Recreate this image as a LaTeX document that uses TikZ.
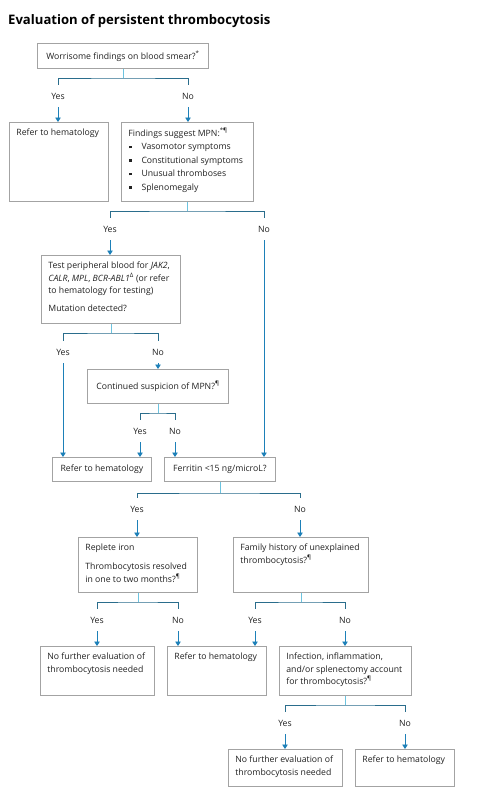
\documentclass[tikz,border=0pt]{standalone}
\usepackage{fontspec}
\setmainfont{Open Sans}
\usetikzlibrary{arrows.meta}
\definecolor{txt}{HTML}{222222}
\definecolor{boxc}{HTML}{A3A3A3}
\definecolor{barc}{HTML}{2A6D8C}
\definecolor{srcc}{HTML}{6CC3DF}
\definecolor{arrc}{HTML}{1D80B8}
\newcommand{\bt}[3]{\parbox[c][#2][t]{#1}{\raggedright\fontsize{8.7}{12.5}\selectfont\strut #3}}
\newcommand{\bq}{\rule[1.6pt]{2.6pt}{2.6pt}\hspace{9.5pt}}
\begin{document}
\begin{tikzpicture}[x=1pt,y=-1pt,
  every node/.style={text=txt},
  box/.style={draw=boxc,line width=0.8pt,anchor=north west,inner xsep=7pt,inner ysep=4.5pt,font=\fontsize{8.7}{12.5}\selectfont},
  cbox/.style={draw=boxc,line width=0.8pt,anchor=north west,inner sep=0pt,font=\fontsize{8.7}{12.5}\selectfont},
  lbl/.style={inner sep=0pt,minimum height=22pt,font=\fontsize{8.7}{10}\selectfont},
  src/.style={draw=srcc,line width=0.8pt},
  bar/.style={draw=barc,line width=0.9pt},
  arr/.style={draw=arrc,line width=0.9pt,-{Triangle[width=5.5pt,length=4.5pt]}}]
\useasboundingbox (0,0) rectangle (480,800);
\fill[white] (0,0) rectangle (480,800);
\node[anchor=west,font=\bfseries\fontsize{13.1}{15}\selectfont,text=black,inner sep=0pt] (title) at (8,21) {Evaluation of persistent thrombocytosis};
% boxes
\node[cbox,minimum width=171pt,minimum height=25pt] (n1) at (37,43) {Worrisome findings on blood smear?\textsuperscript{*}};
\node[box] (refer1) at (9,122) {\bt{85pt}{70pt}{Refer to hematology}};
\node[box] (mpn) at (121,122) {\parbox[c][70pt][t]{118pt}{\raggedright\fontsize{8.7}{13.5}\selectfont\strut Findings suggest MPN:\textsuperscript{*¶}\\
\hspace*{1pt}\bq Vasomotor symptoms\\
\hspace*{1pt}\bq Constitutional symptoms\\
\hspace*{1pt}\bq Unusual thromboses\\
\hspace*{1pt}\bq Splenomegaly}};
\node[box] (test) at (41,255) {\bt{125pt}{59pt}{Test peripheral blood for \textit{JAK2}, \textit{CALR}, \textit{MPL}, \textit{BCR-ABL1}\textsuperscript{Δ} (or refer to hematology for testing)\\[5.5pt]\strut Mutation detected?}};
\node[cbox,minimum width=141pt,minimum height=34pt] (cont) at (87,369) {Continued suspicion of MPN?\textsuperscript{¶}};
\node[cbox,minimum width=99pt,minimum height=24pt] (refer2) at (52,457) {Refer to hematology};
\node[cbox,minimum width=111pt,minimum height=24pt] (ferr) at (164,457) {Ferritin <15 ng/microL?};
\node[box] (replete) at (78,537) {\bt{105pt}{46pt}{Replete iron\\[6.5pt]\strut Thrombocytosis resolved in one to two months?\textsuperscript{¶}}};
\node[box] (family) at (233,537) {\bt{121pt}{46pt}{Family history of unexplained thrombocytosis?\textsuperscript{¶}}};
\node[box] (nofur1) at (40,646) {\bt{100pt}{40pt}{No further evaluation of thrombocytosis needed}};
\node[box] (refer3) at (167,646) {\bt{85pt}{40pt}{Refer to hematology}};
\node[box] (infect) at (279,646) {\bt{118pt}{40pt}{Infection, inflammation, and/or splenectomy account for thrombocytosis?\textsuperscript{¶}}};
\node[box] (nofur2) at (228,749) {\bt{100pt}{28pt}{No further evaluation of thrombocytosis needed}};
\node[box] (refer4) at (355,749) {\bt{85pt}{28pt}{Refer to hematology}};
% labels
\node[lbl] (yA) at (58,96) {Yes};   \node[lbl] (nA) at (188,96) {No};
\node[lbl] (yB) at (110,229) {Yes}; \node[lbl] (nB) at (264,229) {No};
\node[lbl] (yC) at (63,352) {Yes};  \node[lbl] (nC) at (158,352) {No};
\node[lbl] (yD) at (140,431) {Yes}; \node[lbl] (nD) at (175,431) {No};
\node[lbl] (yE) at (137,509) {Yes}; \node[lbl] (nE) at (300,509) {No};
\node[lbl] (yF) at (97,620) {Yes};  \node[lbl] (nF) at (178,620) {No};
\node[lbl] (yG) at (255,620) {Yes}; \node[lbl] (nG) at (345,620) {No};
\node[lbl] (yH) at (285,723) {Yes}; \node[lbl] (nH) at (405,723) {No};
% bar coordinates
\coordinate (bA) at (n1.south |- 0,78);
\coordinate (bB) at (mpn.south |- 0,211);
\coordinate (bC) at (test.south |- 0,333);
\coordinate (bD) at (cont.south |- 0,413);
\coordinate (bE) at (ferr.south |- 0,493);
\coordinate (bF) at (replete.south |- 0,602);
\coordinate (bG) at (family.south |- 0,602);
\coordinate (bH) at (infect.south |- 0,705);
% branches
\foreach \s/\b/\y/\n in {n1/bA/yA/nA, mpn/bB/yB/nB, test/bC/yC/nC, cont/bD/yD/nD, ferr/bE/yE/nE, replete/bF/yF/nF, family/bG/yG/nG, infect/bH/yH/nH}{
  \draw[src] (\s.south) -- (\b);
  \draw[bar] (\y.north) |- (\b) -| (\n.north);
}
% arrows
\draw[arr] (yA.south) -- (yA.south |- refer1.north);
\draw[arr] (nA.south) -- (nA.south |- mpn.north);
\draw[arr] (yB.south) -- (yB.south |- test.north);
\draw[arr] (nB.south) -- (nB.south |- ferr.north);
\draw[arr] (yC.south) -- (yC.south |- refer2.north);
\draw[arr] (nC.south) -- (nC.south |- cont.north);
\draw[arr] (yD.south) -- (yD.south |- refer2.north);
\draw[arr] (nD.south) -- (nD.south |- ferr.north);
\draw[arr] (yE.south) -- (yE.south |- replete.north);
\draw[arr] (nE.south) -- (nE.south |- family.north);
\draw[arr] (yF.south) -- (yF.south |- nofur1.north);
\draw[arr] (nF.south) -- (nF.south |- refer3.north);
\draw[arr] (yG.south) -- (yG.south |- refer3.north);
\draw[arr] (nG.south) -- (nG.south |- infect.north);
\draw[arr] (yH.south) -- (yH.south |- nofur2.north);
\draw[arr] (nH.south) -- (nH.south |- refer4.north);
\end{tikzpicture}
\end{document}
